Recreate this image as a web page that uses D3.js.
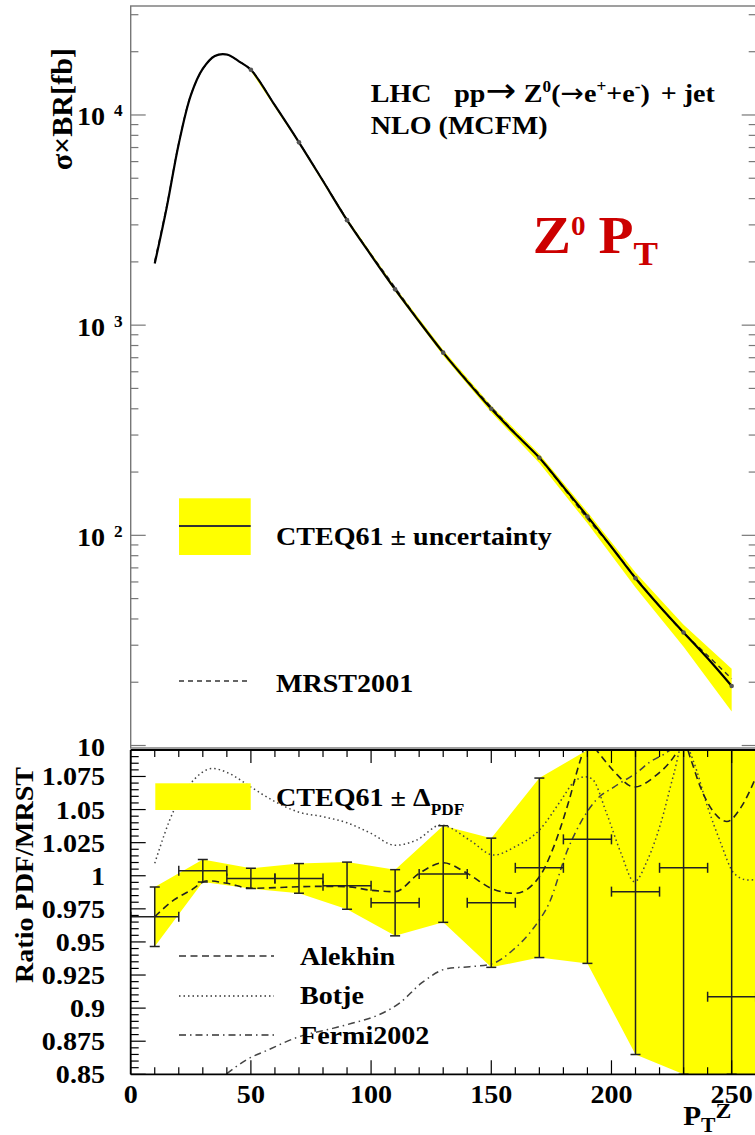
<!DOCTYPE html>
<html>
<head>
<meta charset="utf-8">
<script src="https://cdn.jsdelivr.net/npm/d3@7"></script>
<style>
  html, body { margin: 0; padding: 0; background: #fff; }
  svg { display: block; }
</style>
</head>
<body>
<svg id="chart" width="755" height="1135"></svg>
<script>
// ---------------- data ----------------
// Z0 pT spectrum, NLO (MCFM), sigma x BR in fb
const cteqPt   = [10, 15, 20, 25, 30, 35, 40, 45, 50, 60, 70, 80, 90, 100, 110, 120, 130, 140, 150, 160, 170, 180, 190, 200, 210, 220, 230, 240, 250];
const cteqXsec = [1963, 3640, 7300, 12400, 16600, 19100, 19400, 18000, 16400, 11100, 7410, 4850, 3160, 2150, 1480, 1040, 740, 540, 400, 304, 234, 170, 123, 88, 62.5, 46, 34.5, 26, 19.2];
const mrstXsec = [2020, 3700, 7350, 12450, 16550, 19050, 19380, 18000, 16430, 11120, 7420, 4870, 3180, 2170, 1510, 1045, 740, 545, 408, 306, 233, 168, 120, 88, 63, 46, 34.4, 26.8, 20.8];

// CTEQ61 uncertainty band (per bin)
const bandPt = [50, 70, 90, 110, 130, 150, 170, 190, 210, 230, 250];
const bandHi = [16600, 7520, 3220, 1515, 762, 414, 244, 129, 66.5, 37.5, 23.2];
const bandLo = [16200, 7300, 3100, 1445, 716, 384, 221, 114, 56.5, 29.5, 14.5];

// Ratio PDF / MRST, CTEQ61 +- Delta_PDF per 20 GeV bin
const ratioPt  = [10, 30, 50, 70, 90, 110, 130, 150, 170, 190, 210, 230, 250];
const ratioVal = [0.969, 1.0038, 0.998, 0.998, 0.9925, 0.9796, 1.0013, 0.9796, 1.006, 1.0275, 0.988, 1.006, 0.9086];
const ratioErr = [0.0225, 0.0085, 0.0077, 0.0112, 0.0178, 0.025, 0.0365, 0.0488, 0.0678, 0.0937, 0.123, 0.2, 0.2];
const binHalf  = 10;

const alekhinPt    = [10, 18, 25, 32, 40, 50, 60, 70, 80, 90, 100, 110, 120, 130, 140, 150, 160, 170, 176, 182, 187, 190, 195, 201, 209.5, 218, 226, 230, 233, 237, 243, 248, 254, 260];
const alekhinRatio = [0.969, 0.9817, 0.989, 0.9962, 0.9943, 0.9905, 0.991, 0.9917, 0.992, 0.9917, 0.989, 0.988, 1.0018, 1.0098, 1.0018, 0.9905, 0.9867, 0.9992, 1.022, 1.0547, 1.087, 1.102, 1.092, 1.079, 1.067, 1.075, 1.09, 1.102, 1.088, 1.067, 1.047, 1.041, 1.052, 1.074];

const botjePt    = [10, 18, 25, 34, 41, 50, 60, 70, 80, 90, 100, 110, 119, 129, 141, 151, 160, 170, 179, 184, 189, 192, 198, 204, 209.5, 215, 220.5, 226, 230, 234, 240, 245.5, 251, 256.7, 260];
const botjeRatio = [1.0094, 1.0496, 1.0698, 1.081, 1.0773, 1.067, 1.056, 1.048, 1.0446, 1.040, 1.032, 1.023, 1.027, 1.0383, 1.027, 1.0156, 1.022, 1.0345, 1.057, 1.070, 1.0748, 1.073, 1.047, 1.0169, 0.9955, 1.0119, 1.0396, 1.0773, 1.102, 1.087, 1.052, 1.0245, 1.0018, 0.9968, 0.997];

const fermiPt    = [40, 48, 57, 70, 84, 92, 103, 112, 121, 132, 141, 150, 159, 168, 174, 181.7, 187, 193.5, 201, 211, 216, 222, 228];
const fermiRatio = [0.8505, 0.8608, 0.8683, 0.8784, 0.8847, 0.8885, 0.8948, 0.904, 0.919, 0.930, 0.9313, 0.9333, 0.9439, 0.9615, 0.979, 1.0194, 1.0396, 1.057, 1.067, 1.0786, 1.086, 1.092, 1.10];

// axis ticks
const xTickLabels     = ["0", "50", "100", "150", "200", "250"];
const xsecTickValues  = [10, 100, 1000, 10000];
const ratioTickLabels = ["0.85", "0.875", "0.9", "0.925", "0.95", "0.975", "1", "1.025", "1.05", "1.075"];

// ---------------- layout ----------------
const svg = d3.select("#chart");
const X0 = 130.7, X1 = 755.7;
const TOP = { y0: 6, y1: 748 };
const BOT = { y0: 750, y1: 1074.3 };

const x = d3.scaleLinear().domain([0, 260]).range([X0, X1]);
const yTop = d3.scaleLog().domain([10, 33000]).range([745.5, 6]);
const yBot = d3.scaleLinear().domain([0.85, 1.095]).range([BOT.y1, BOT.y0]);
const yBotC = yBot.copy().clamp(true);

const FONT = "'Liberation Serif','Times New Roman',serif";
const ARROW_FONT = "'DejaVu Sans',sans-serif";
const SX = 1.08;

function label(parent, px, py, size, opt = {}) {
  let tr = `translate(${px},${py})`;
  if (opt.rotate) tr += ` rotate(${opt.rotate})`;
  tr += ` scale(${opt.sx ?? SX},1)`;
  return parent.append("text")
    .attr("transform", tr)
    .attr("font-family", FONT)
    .attr("font-weight", "bold")
    .attr("font-size", size)
    .attr("text-anchor", opt.anchor || "start")
    .attr("fill", opt.fill || "#000");
}

const defs = svg.append("defs");
defs.append("clipPath").attr("id", "clipTop").append("rect")
  .attr("x", X0).attr("y", TOP.y0).attr("width", X1 - X0).attr("height", TOP.y1 - TOP.y0);
defs.append("clipPath").attr("id", "clipBot").append("rect")
  .attr("x", X0).attr("y", BOT.y0).attr("width", X1 - X0).attr("height", BOT.y1 - BOT.y0);

// ================= upper panel: cross section =================
const gTop = svg.append("g");
const gTopPlot = gTop.append("g").attr("clip-path", "url(#clipTop)");

const bandData = bandPt.map((p, i) => ({ p, hi: bandHi[i], lo: bandLo[i] }));
gTopPlot.append("path")
  .datum(bandData)
  .attr("fill", "#ffff00")
  .attr("d", d3.area().x(d => x(d.p)).y0(d => yTop(d.lo)).y1(d => yTop(d.hi)));

const cteqData = cteqPt.map((p, i) => ({ p, v: cteqXsec[i] }));
const mrstData = cteqPt.map((p, i) => ({ p, v: mrstXsec[i] }));
const xsLine = d3.line().x(d => x(d.p)).y(d => yTop(d.v)).curve(d3.curveCatmullRom.alpha(0.5));

gTopPlot.append("path").datum(mrstData)
  .attr("fill", "none").attr("stroke", "#333").attr("stroke-width", 1.4)
  .attr("stroke-dasharray", "5,4").attr("d", xsLine);
gTopPlot.append("path").datum(cteqData)
  .attr("fill", "none").attr("stroke", "#000").attr("stroke-width", 2.2).attr("d", xsLine);

// bin markers on the CTEQ curve
gTopPlot.selectAll("circle.mk").data(bandPt).enter().append("circle")
  .attr("cx", p => x(p))
  .attr("cy", p => yTop(cteqXsec[cteqPt.indexOf(p)]))
  .attr("r", 2.3)
  .attr("fill", "#555");

// frame and ticks
gTop.append("rect")
  .attr("x", X0).attr("y", TOP.y0).attr("width", X1 - X0).attr("height", TOP.y1 - TOP.y0)
  .attr("fill", "none").attr("stroke", "#777").attr("stroke-width", 1.4);

const topTicks = [];
for (let k = 1; k <= 4; k++) for (let m = 1; m <= 9; m++) {
  const v = m * Math.pow(10, k);
  if (v <= yTop.domain()[1]) topTicks.push({ v, major: m === 1 });
}
gTop.selectAll("line.tl").data(topTicks).enter().append("line")
  .attr("x1", X0).attr("x2", d => X0 + (d.major ? 15 : 7.7))
  .attr("y1", d => yTop(d.v)).attr("y2", d => yTop(d.v))
  .attr("stroke", "#777").attr("stroke-width", 1.2);
gTop.selectAll("line.tr").data(topTicks).enter().append("line")
  .attr("x1", X1).attr("x2", d => X1 - (d.major ? 14 : 7))
  .attr("y1", d => yTop(d.v)).attr("y2", d => yTop(d.v))
  .attr("stroke", "#777").attr("stroke-width", 1.2);

xsecTickValues.forEach(v => {
  const py = yTop(v);
  label(gTop, 105, py + 10.5, 26, { anchor: "end" }).text("10");
  const e = Math.round(Math.log10(v));
  if (e > 1) label(gTop, 114, py + 1.5, 16).text(String(e));
});

label(gTop, 72, 48, 29, { rotate: -90, anchor: "end", sx: 1.04 }).text("σ×BR[fb]");

// process text
const t1 = label(gTop, 370.7, 101.7, 26);
t1.append("tspan").text("LHC");
t1.append("tspan").attr("dx", 21).text("pp");
t1.append("tspan").attr("font-family", ARROW_FONT).attr("font-weight", "normal").attr("font-size", 34).text("→");
t1.append("tspan").attr("dx", 7).text("Z");
t1.append("tspan").attr("dy", -10).attr("font-size", 16).text("0");
t1.append("tspan").attr("dy", 10).text("(");
t1.append("tspan").attr("font-family", ARROW_FONT).attr("font-weight", "normal").attr("font-size", 26).text("→");
t1.append("tspan").text("e");
t1.append("tspan").attr("dy", -10).attr("font-size", 16).text("+");
t1.append("tspan").attr("dy", 10).text("+e");
t1.append("tspan").attr("dy", -10).attr("font-size", 16).text("-");
t1.append("tspan").attr("dy", 10).text(")");
t1.append("tspan").attr("dx", 10).text("+ jet");
label(gTop, 370.7, 134, 26).text("NLO (MCFM)");

// red title
const t2 = label(gTop, 532.7, 253.3, 53, { fill: "#cc0000" });
t2.append("tspan").text("Z");
t2.append("tspan").attr("dy", -18).attr("font-size", 27).text("0");
t2.append("tspan").attr("dy", 18).attr("dx", 12).text("P");
t2.append("tspan").attr("dy", 12).attr("font-size", 34).text("T");

// legend
gTop.append("rect").attr("x", 179).attr("y", 498.3).attr("width", 71.7).attr("height", 56.7).attr("fill", "#ffff00");
gTop.append("line").attr("x1", 179).attr("x2", 250.7).attr("y1", 526).attr("y2", 526)
  .attr("stroke", "#333").attr("stroke-width", 2);
label(gTop, 276, 545, 26).text("CTEQ61 ± uncertainty");
gTop.append("line").attr("x1", 179).attr("x2", 251).attr("y1", 681).attr("y2", 681)
  .attr("stroke", "#333").attr("stroke-width", 1.4).attr("stroke-dasharray", "5,4");
label(gTop, 276, 691.7, 26).text("MRST2001");

// ================= lower panel: ratio =================
const gBot = svg.append("g");
const gBotPlot = gBot.append("g").attr("clip-path", "url(#clipBot)");

const ratioData = ratioPt.map((p, i) => ({ p, v: ratioVal[i], e: ratioErr[i] }));
const rBand = ratioData.map(d => ({ p: d.p, lo: d.v - d.e, hi: d.v + d.e }));
const lastBin = rBand[rBand.length - 1];
rBand.push({ p: x.domain()[1], lo: lastBin.lo, hi: lastBin.hi });
gBotPlot.append("path").datum(rBand)
  .attr("fill", "#ffff00")
  .attr("d", d3.area().x(d => x(d.p)).y0(d => yBotC(d.lo)).y1(d => yBotC(d.hi)));

const rLine = d3.line().x(d => x(d[0])).y(d => yBot(d[1])).curve(d3.curveMonotoneX);
const zipc = (a, b) => a.map((p, i) => [p, b[i]]);

gBotPlot.append("path").datum(zipc(fermiPt, fermiRatio))
  .attr("fill", "none").attr("stroke", "#444").attr("stroke-width", 1.5)
  .attr("stroke-dasharray", "7,4,1.5,4").attr("d", rLine);
gBotPlot.append("path").datum(zipc(botjePt, botjeRatio))
  .attr("fill", "none").attr("stroke", "#444").attr("stroke-width", 1.5)
  .attr("stroke-dasharray", "1.5,3").attr("d", rLine);
gBotPlot.append("path").datum(zipc(alekhinPt, alekhinRatio))
  .attr("fill", "none").attr("stroke", "#222").attr("stroke-width", 1.6)
  .attr("stroke-dasharray", "7,4.5").attr("d", rLine);

// error bars
const eb = gBotPlot.selectAll("g.eb").data(ratioData).enter().append("g")
  .attr("stroke", "#222").attr("stroke-width", 1.5).attr("fill", "none");
eb.append("line")
  .attr("x1", d => x(d.p)).attr("x2", d => x(d.p))
  .attr("y1", d => yBotC(d.v - d.e)).attr("y2", d => yBotC(d.v + d.e));
eb.append("line")
  .attr("x1", d => x(d.p - binHalf)).attr("x2", d => x(d.p + binHalf))
  .attr("y1", d => yBot(d.v)).attr("y2", d => yBot(d.v));
[d => d.v - d.e, d => d.v + d.e].forEach(f => {
  eb.append("line")
    .attr("x1", d => x(d.p) - 5).attr("x2", d => x(d.p) + 5)
    .attr("y1", d => yBotC(f(d))).attr("y2", d => yBotC(f(d)));
});
[-binHalf, binHalf].forEach(o => {
  eb.append("line")
    .attr("x1", d => x(d.p + o)).attr("x2", d => x(d.p + o))
    .attr("y1", d => yBot(d.v) - 5).attr("y2", d => yBot(d.v) + 5);
});

// frame
gBot.append("line").attr("x1", X0).attr("x2", X1).attr("y1", BOT.y0).attr("y2", BOT.y0)
  .attr("stroke", "#000").attr("stroke-width", 1.8);
gBot.append("line").attr("x1", X0).attr("x2", X1).attr("y1", BOT.y1).attr("y2", BOT.y1)
  .attr("stroke", "#000").attr("stroke-width", 1.8);
gBot.append("line").attr("x1", X0).attr("x2", X0).attr("y1", BOT.y0).attr("y2", BOT.y1)
  .attr("stroke", "#000").attr("stroke-width", 1.8);

// y ticks
const yTicks = d3.range(0, 50).map(i => ({ v: 0.85 + i * 0.005, major: i % 5 === 0 }))
  .filter(d => d.v <= yBot.domain()[1] + 1e-9);
gBot.selectAll("line.yt").data(yTicks).enter().append("line")
  .attr("x1", X0).attr("x2", d => X0 + (d.major ? 15 : 8))
  .attr("y1", d => yBot(d.v)).attr("y2", d => yBot(d.v))
  .attr("stroke", "#000").attr("stroke-width", 1.2);
ratioTickLabels.forEach(s => {
  label(gBot, 105, yBot(+s) + 9, 26, { anchor: "end" }).text(s);
});

// x ticks
const xTicks = d3.range(0, 27).map(i => ({ v: i * 10, major: i % 5 === 0 }))
  .filter(d => d.v < x.domain()[1]);
gBot.selectAll("line.xb").data(xTicks).enter().append("line")
  .attr("x1", d => x(d.v)).attr("x2", d => x(d.v))
  .attr("y1", BOT.y1).attr("y2", d => BOT.y1 - (d.major ? 14 : 7))
  .attr("stroke", "#000").attr("stroke-width", 1.2);
gBot.selectAll("line.xt").data(xTicks).enter().append("line")
  .attr("x1", d => x(d.v)).attr("x2", d => x(d.v))
  .attr("y1", BOT.y0).attr("y2", d => BOT.y0 + (d.major ? 13 : 7))
  .attr("stroke", "#000").attr("stroke-width", 1.2);
xTickLabels.forEach(s => {
  label(gBot, x(+s), 1102.7, 26, { anchor: "middle" }).text(s);
});

// axis titles
label(gBot, 33, 767, 26, { rotate: -90, anchor: "end" }).text("Ratio PDF/MRST");
const tx = label(gBot, 683.3, 1125, 27);
tx.append("tspan").text("P");
tx.append("tspan").attr("dy", 7).attr("font-size", 20).text("T");
tx.append("tspan").attr("dy", -14).attr("font-size", 22).text("Z");

// legend
gBot.append("rect").attr("x", 155.3).attr("y", 783.3).attr("width", 95.4).attr("height", 26.7).attr("fill", "#ffff00");
const tl = label(gBot, 276, 806, 26);
tl.append("tspan").text("CTEQ61 ± Δ");
tl.append("tspan").attr("dy", 9).attr("font-size", 16).text("PDF");

const legLines = [
  { name: "Alekhin",   y: 956,  dash: "7,4.5",       tx: 965 },
  { name: "Botje",     y: 996,  dash: "1.5,3",       tx: 1004 },
  { name: "Fermi2002", y: 1035, dash: "7,4,1.5,4",   tx: 1044 }
];
legLines.forEach(l => {
  gBot.append("line").attr("x1", 179).attr("x2", 274).attr("y1", l.y).attr("y2", l.y)
    .attr("stroke", "#333").attr("stroke-width", 1.5).attr("stroke-dasharray", l.dash);
  label(gBot, 300, l.tx, 26).text(l.name);
});
</script>
</body>
</html>
